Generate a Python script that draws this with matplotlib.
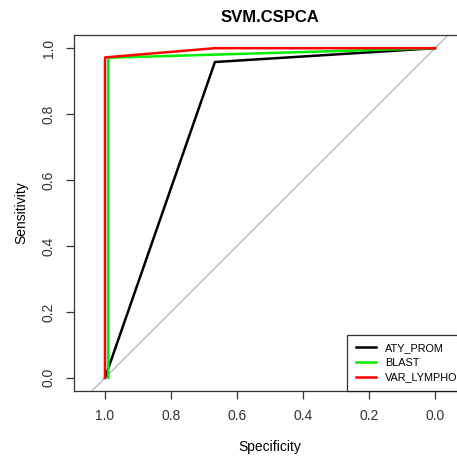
import matplotlib
matplotlib.use("Agg")
import matplotlib.pyplot as plt

# ROC curves (specificity, sensitivity)
classes = ["ATY_PROM", "BLAST", "VAR_LYMPHO"]
colors = ["black", "#00ee00", "red"]
spec = {
    "ATY_PROM": [1.0, 0.667, 0.0],
    "BLAST": [0.99, 0.99, 0.0],
    "VAR_LYMPHO": [1.0, 1.0, 0.667, 0.0],
}
sens = {
    "ATY_PROM": [0.0, 0.958, 1.0],
    "BLAST": [0.0, 0.971, 1.0],
    "VAR_LYMPHO": [0.0, 0.972, 1.0, 1.0],
}
ticks = [1.0, 0.8, 0.6, 0.4, 0.2, 0.0]

plt.rcParams["font.family"] = ["Liberation Sans", "DejaVu Sans"]

W, H = 457, 459
fig = plt.figure(figsize=(W / 100, H / 100), dpi=100)
# plot region (pixels): left 74, right 466 (off image), top 35, bottom 391
ax = fig.add_axes([74 / W, 1 - 391 / H, (466 - 74) / W, (391 - 35) / H])

# identity line
ax.plot([1.2, -0.2], [-0.2, 1.2], color="#bbbbbb", lw=1.0, zorder=1)

for name, col in zip(classes, colors):
    ax.plot(spec[name], sens[name], color=col, lw=1.8, label=name, zorder=2)

ax.set_xlim(1.094, -0.094)
ax.set_ylim(-0.04, 1.04)
ax.set_xticks(ticks)
ax.set_xticklabels([f"{t:.1f}" for t in ticks])
ax.set_yticks(ticks)
ax.set_yticklabels([f"{t:.1f}" for t in ticks], rotation=90, va="center")
ax.tick_params(direction="out", length=6, width=0.9, colors="#333333",
               labelsize=10, pad=7)
for s in ax.spines.values():
    s.set_color("#333333")
    s.set_linewidth(0.9)

ax.set_xlabel("Specificity", fontsize=10, labelpad=12)
ax.set_ylabel("Sensitivity", fontsize=10, labelpad=10)
fig.text(270 / W, 1 - 17 / H, "SVM.CSPCA", ha="center", va="center",
         fontsize=12, fontweight="bold")

leg = ax.legend(loc="lower right", borderaxespad=0, fontsize=7.8,
                frameon=True, fancybox=False, edgecolor="black",
                handlelength=1.9, handletextpad=0.8, labelspacing=0.42,
                borderpad=0.8)
leg.get_frame().set_linewidth(0.9)

fig.savefig("out.png", dpi=100)
